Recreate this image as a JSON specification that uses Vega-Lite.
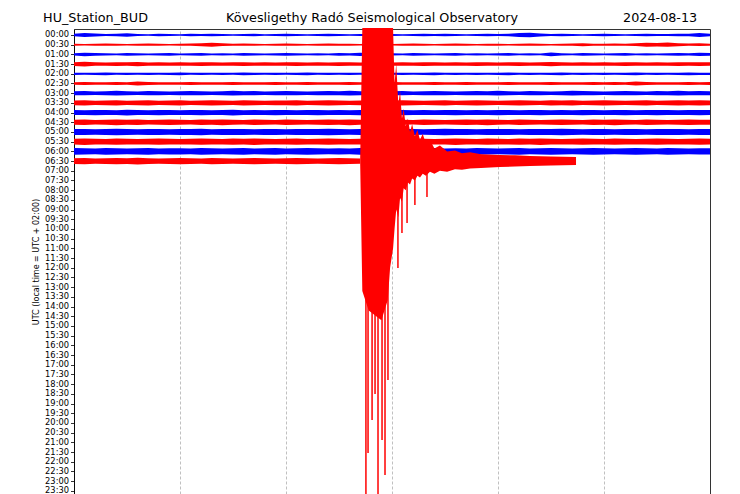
{
  "$schema": "https://vega.github.io/schema/vega-lite/v6.json",
  "width": 636,
  "height": 465,
  "autosize": {"type": "none"},
  "padding": {"left": 74, "top": 29, "right": 30, "bottom": 0},
  "background": "white",
  "config": {"view": {"stroke": "#333", "strokeWidth": 1}, "font": "DejaVu Sans"},
  "encoding": {
    "x": {"field": "t", "type": "quantitative",
      "scale": {"domain": [0, 30], "nice": false, "zero": false},
      "axis": {"values": [5,10,15,20,25], "labels": false, "ticks": false, "domain": false, "grid": true,
               "gridDash": [3,2], "gridColor": "#b0b0b0", "gridWidth": 0.8, "title": null}},
    "y": {"field": "y", "type": "quantitative",
      "scale": {"domain": [-0.309, 23.66], "reverse": true, "nice": false, "zero": false},
      "axis": {"values": [0,0.5,1,1.5,2,2.5,3,3.5,4,4.5,5,5.5,6,6.5,7,7.5,8,8.5,9,9.5,10,10.5,11,11.5,12,12.5,13,13.5,14,14.5,15,15.5,16,16.5,17,17.5,18,18.5,19,19.5,20,20.5,21,21.5,22,22.5,23,23.5],
               "labelExpr": "(datum.value < 10 ? '0' : '') + floor(datum.value) + ':' + (datum.value % 1 > 0.25 ? '30' : '00')",
               "labelOverlap": false, "labelBound": false, "labelFont": "DejaVu Sans", "labelFontSize": 8.3, "labelColor": "#000",
               "labelPadding": 2, "tickSize": 3.5, "tickColor": "#000", "tickWidth": 0.8, "domainColor": "#000", "domainWidth": 0.8,
               "grid": false, "title": "UTC (local time = UTC + 02:00)", "titleFont": "DejaVu Sans", "titleFontSize": 8,
               "titleFontWeight": "normal", "titleColor": "#000", "titlePadding": 4}}
  },
  "layer": [
    {
      "data": {"values": [{
        "t": [0,0.5,1,1.5,2,2.5,3,3.5,4,4.5,5,5.5,6,6.5,7,7.5,8,8.5,9,9.5,10,10.5,11,11.5,12,12.5,13,13.5,14,14.5,15,15.5,16,16.5,17,17.5,18,18.5,19,19.5,20,20.5,21,21.5,22,22.5,23,23.5,24,24.5,25,25.5,26,26.5,27,27.5,28,28.5,29,29.5,30],
        "a0": [0.07,0.1,0.08,0.05,0.06,0.09,0.05,0.04,0.06,0.05,0.04,0.06,0.05,0.07,0.05,0.04,0.05,0.06,0.04,0.05,0.06,0.05,0.04,0.05,0.07,0.05,0.04,0.05,0.05,0.06,0.05,0.04,0.05,0.06,0.05,0.07,0.05,0.04,0.05,0.06,0.05,0.07,0.1,0.12,0.08,0.05,0.06,0.05,0.04,0.05,0.06,0.05,0.04,0.05,0.06,0.05,0.05,0.06,0.07,0.1,0.06],
        "a1": [0.05,0.04,0.05,0.06,0.05,0.04,0.05,0.06,0.05,0.04,0.05,0.06,0.08,0.1,0.07,0.05,0.06,0.05,0.04,0.05,0.06,0.05,0.04,0.05,0.06,0.05,0.05,0.04,0.06,0.05,0.04,0.05,0.06,0.05,0.04,0.05,0.06,0.05,0.04,0.05,0.05,0.04,0.05,0.06,0.05,0.04,0.05,0.06,0.08,0.05,0.05,0.06,0.05,0.07,0.1,0.09,0.11,0.08,0.06,0.07,0.05],
        "a2": [0.06,0.09,0.07,0.06,0.05,0.07,0.06,0.05,0.06,0.07,0.05,0.06,0.07,0.05,0.06,0.05,0.07,0.06,0.05,0.06,0.07,0.06,0.05,0.06,0.05,0.07,0.06,0.08,0.06,0.05,0.06,0.05,0.07,0.06,0.05,0.06,0.07,0.05,0.06,0.05,0.06,0.07,0.05,0.06,0.05,0.1,0.06,0.05,0.07,0.06,0.05,0.06,0.07,0.05,0.06,0.05,0.06,0.07,0.06,0.08,0.07],
        "a3": [0.1,0.12,0.09,0.08,0.1,0.09,0.11,0.08,0.09,0.08,0.09,0.08,0.1,0.09,0.08,0.09,0.1,0.08,0.09,0.08,0.09,0.1,0.08,0.09,0.08,0.1,0.09,0.08,0.09,0.1,0.08,0.09,0.08,0.1,0.09,0.08,0.09,0.08,0.1,0.09,0.08,0.09,0.1,0.08,0.09,0.11,0.09,0.08,0.09,0.08,0.09,0.08,0.1,0.09,0.08,0.09,0.08,0.1,0.09,0.1,0.09],
        "a4": [0.06,0.05,0.06,0.07,0.05,0.06,0.05,0.06,0.05,0.06,0.07,0.05,0.06,0.05,0.06,0.05,0.07,0.06,0.05,0.06,0.05,0.06,0.07,0.05,0.06,0.05,0.06,0.05,0.07,0.06,0.05,0.06,0.05,0.06,0.07,0.05,0.06,0.05,0.06,0.05,0.06,0.07,0.05,0.06,0.05,0.06,0.07,0.05,0.06,0.05,0.06,0.05,0.06,0.07,0.05,0.06,0.05,0.06,0.07,0.06,0.06],
        "a5": [0.07,0.08,0.07,0.06,0.08,0.07,0.1,0.08,0.07,0.06,0.07,0.08,0.07,0.06,0.07,0.08,0.07,0.06,0.07,0.08,0.07,0.06,0.08,0.07,0.06,0.07,0.08,0.07,0.06,0.07,0.08,0.07,0.06,0.07,0.08,0.07,0.06,0.08,0.07,0.06,0.07,0.08,0.07,0.06,0.07,0.08,0.07,0.06,0.07,0.08,0.07,0.08,0.07,0.1,0.08,0.07,0.06,0.07,0.08,0.07,0.08],
        "a6": [0.1,0.11,0.09,0.1,0.12,0.1,0.09,0.11,0.1,0.09,0.1,0.11,0.1,0.09,0.1,0.12,0.1,0.11,0.09,0.1,0.11,0.1,0.09,0.1,0.11,0.1,0.12,0.1,0.09,0.1,0.1,0.11,0.09,0.1,0.11,0.1,0.09,0.1,0.11,0.1,0.12,0.1,0.09,0.11,0.1,0.09,0.1,0.12,0.11,0.1,0.09,0.1,0.11,0.1,0.09,0.11,0.1,0.12,0.1,0.11,0.1],
        "a7": [0.12,0.13,0.11,0.12,0.14,0.11,0.12,0.13,0.11,0.12,0.13,0.11,0.12,0.14,0.12,0.11,0.13,0.12,0.11,0.12,0.12,0.13,0.11,0.12,0.13,0.12,0.11,0.12,0.13,0.11,0.12,0.14,0.12,0.11,0.12,0.13,0.11,0.12,0.13,0.12,0.11,0.12,0.13,0.12,0.11,0.14,0.12,0.13,0.11,0.12,0.13,0.12,0.11,0.12,0.13,0.11,0.12,0.14,0.12,0.13,0.12],
        "a8": [0.13,0.12,0.14,0.13,0.12,0.15,0.13,0.12,0.14,0.13,0.12,0.13,0.14,0.12,0.13,0.15,0.12,0.13,0.12,0.14,0.13,0.12,0.13,0.14,0.12,0.13,0.12,0.14,0.13,0.12,0.13,0.14,0.12,0.13,0.12,0.13,0.14,0.12,0.13,0.12,0.14,0.13,0.12,0.13,0.14,0.12,0.13,0.12,0.14,0.13,0.12,0.13,0.14,0.12,0.13,0.14,0.13,0.12,0.13,0.14,0.13],
        "a9": [0.13,0.14,0.12,0.13,0.15,0.13,0.14,0.12,0.13,0.14,0.13,0.12,0.14,0.13,0.15,0.13,0.12,0.14,0.13,0.12,0.14,0.13,0.12,0.13,0.14,0.13,0.15,0.13,0.12,0.13,0.14,0.13,0.12,0.14,0.13,0.12,0.13,0.14,0.13,0.15,0.13,0.12,0.14,0.13,0.12,0.13,0.14,0.13,0.12,0.14,0.13,0.15,0.13,0.12,0.14,0.13,0.12,0.13,0.14,0.13,0.13],
        "a10": [0.15,0.16,0.14,0.15,0.17,0.15,0.14,0.16,0.15,0.14,0.16,0.15,0.17,0.14,0.15,0.16,0.15,0.14,0.16,0.15,0.14,0.15,0.16,0.15,0.17,0.15,0.14,0.15,0.16,0.15,0.14,0.16,0.15,0.14,0.15,0.17,0.15,0.16,0.14,0.15,0.16,0.15,0.14,0.15,0.16,0.15,0.17,0.15,0.14,0.16,0.15,0.14,0.16,0.15,0.14,0.15,0.16,0.15,0.14,0.15,0.15],
        "a11": [0.15,0.17,0.15,0.14,0.16,0.15,0.14,0.15,0.16,0.15,0.14,0.15,0.16,0.15,0.14,0.16,0.15,0.17,0.15,0.14,0.15,0.16,0.14,0.15,0.16,0.15,0.14,0.15,0.16,0.15,0.14,0.15,0.16,0.15,0.14,0.15,0.17,0.15,0.14,0.16,0.15,0.14,0.16,0.15,0.17,0.15,0.14,0.15,0.16,0.15,0.14,0.16,0.15,0.14,0.15,0.16,0.15,0.14,0.15,0.16,0.15],
        "a12": [0.17,0.16,0.15,0.17,0.16,0.15,0.16,0.17,0.15,0.16,0.16,0.15,0.17,0.16,0.15,0.16,0.17,0.15,0.16,0.17,0.15,0.16,0.17,0.16,0.15,0.16,0.15,0.17,0.16,0.15,0.16,0.17,0.15,0.16,0.17,0.15,0.16,0.15,0.17,0.16,0.15,0.16,0.17,0.15,0.16,0.17,0.16,0.15,0.16,0.17,0.16,0.15,0.16,0.17,0.16,0.15,0.17,0.16,0.15,0.16,0.16],
        "a13": [0.15,0.16,0.14,0.15,0.16,0.15,0.17,0.15,0.14,0.15,0.16,0.15,0.14,0.16,0.15,0.14,0.15,0.16,0.15,0.14,0.15,0.16,0.15,0.14,0.15,0.16,0.15,0.14]
      }]},
      "transform": [
        {"flatten": ["t","a0","a1","a2","a3","a4","a5","a6","a7","a8","a9","a10","a11","a12","a13"]},
        {"fold": ["a0","a1","a2","a3","a4","a5","a6","a7","a8","a9","a10","a11","a12","a13"], "as": ["k","a"]},
        {"filter": "isValid(datum.a)"},
        {"lookup": "k", "from": {"data": {"values": [
          {"k":"a0","h":0,"c":"b"},{"k":"a1","h":0.5,"c":"r"},{"k":"a2","h":1,"c":"b"},{"k":"a3","h":1.5,"c":"r"},
          {"k":"a4","h":2,"c":"b"},{"k":"a5","h":2.5,"c":"r"},{"k":"a6","h":3,"c":"b"},{"k":"a7","h":3.5,"c":"r"},
          {"k":"a8","h":4,"c":"b"},{"k":"a9","h":4.5,"c":"r"},{"k":"a10","h":5,"c":"b"},{"k":"a11","h":5.5,"c":"r"},
          {"k":"a12","h":6,"c":"b"},{"k":"a13","h":6.5,"c":"r"}]}, "key": "k", "fields": ["h","c"]}},
        {"calculate": "datum.h - datum.a", "as": "y"},
        {"calculate": "datum.h + datum.a", "as": "y2"}
      ],
      "mark": {"type": "area", "interpolate": "linear"},
      "encoding": {
        "y2": {"field": "y2"},
        "color": {"field": "c", "type": "nominal", "scale": {"domain": ["b","r"], "range": ["#0000ff","#ff0000"]}, "legend": null},
        "detail": {"field": "h"}
      }
    },
    {
      "data": {"values": [
        {"t":13.5,"y":6.35,"y2":6.65},
        {"t":13.6,"y":-0.36,"y2":13.2},
        {"t":13.9,"y":-0.36,"y2":14.2},
        {"t":14.5,"y":-0.36,"y2":14.7},
        {"t":14.8,"y":-0.36,"y2":13.66},
        {"t":14.91,"y":-0.36,"y2":12.0},
        {"t":15.05,"y":-0.36,"y2":11.0},
        {"t":15.12,"y":2.5,"y2":10.0},
        {"t":15.2,"y":1.5,"y2":9.0},
        {"t":15.3,"y":3.6,"y2":9.4},
        {"t":15.38,"y":2.9,"y2":8.4},
        {"t":15.47,"y":4.3,"y2":8.6},
        {"t":15.55,"y":3.8,"y2":7.9},
        {"t":15.65,"y":4.7,"y2":8.0},
        {"t":15.75,"y":4.3,"y2":7.6},
        {"t":15.85,"y":5.0,"y2":7.7},
        {"t":15.95,"y":4.6,"y2":7.4},
        {"t":16.08,"y":5.2,"y2":7.5},
        {"t":16.2,"y":4.9,"y2":7.25},
        {"t":16.32,"y":5.4,"y2":7.35},
        {"t":16.45,"y":5.1,"y2":7.15},
        {"t":16.6,"y":5.6,"y2":7.25},
        {"t":16.79,"y":5.4,"y2":7.05},
        {"t":17.0,"y":5.85,"y2":7.15},
        {"t":17.26,"y":5.7,"y2":7.0},
        {"t":17.6,"y":6.0,"y2":7.05},
        {"t":17.97,"y":5.95,"y2":6.92},
        {"t":18.3,"y":6.1,"y2":6.95},
        {"t":18.68,"y":6.05,"y2":6.88},
        {"t":19.2,"y":6.15,"y2":6.85},
        {"t":20.09,"y":6.19,"y2":6.8},
        {"t":20.8,"y":6.2,"y2":6.78},
        {"t":21.51,"y":6.24,"y2":6.75},
        {"t":22.5,"y":6.26,"y2":6.73},
        {"t":23.68,"y":6.29,"y2":6.7}
      ]},
      "mark": {"type": "area", "color": "#ff0000", "interpolate": "linear"},
      "encoding": {"y2": {"field": "y2"}}
    },
    {
      "data": {"values": [
        {"t":13.77,"y":6.5,"y2":23.66},
        {"t":13.87,"y":6.5,"y2":21.55},
        {"t":14.06,"y":6.5,"y2":19.85},
        {"t":14.2,"y":6.5,"y2":18.5},
        {"t":14.34,"y":6.5,"y2":23.66},
        {"t":14.53,"y":6.5,"y2":20.88},
        {"t":14.67,"y":6.5,"y2":22.68},
        {"t":14.81,"y":6.5,"y2":17.78},
        {"t":15.28,"y":6.5,"y2":12.01},
        {"t":15.47,"y":6.5,"y2":10.21},
        {"t":15.71,"y":6.5,"y2":9.69},
        {"t":16.08,"y":6.5,"y2":8.76},
        {"t":16.65,"y":6.5,"y2":8.35}
      ]},
      "mark": {"type": "rule", "color": "#ff0000", "strokeWidth": 1.5},
      "encoding": {"y2": {"field": "y2"}}
    },
    {
      "data": {"values": [
        {"t": -1.46, "y": -0.686, "label": "HU_Station_BUD"},
        {"t": 7.17, "y": -0.686, "label": "Kövesligethy Radó Seismological Observatory"},
        {"t": 25.9, "y": -0.686, "label": "2024-08-13"}
      ]},
      "mark": {"type": "text", "align": "left", "baseline": "alphabetic", "font": "DejaVu Sans", "fontSize": 12.75, "color": "#000"},
      "encoding": {"text": {"field": "label"}}
    }
  ]
}
